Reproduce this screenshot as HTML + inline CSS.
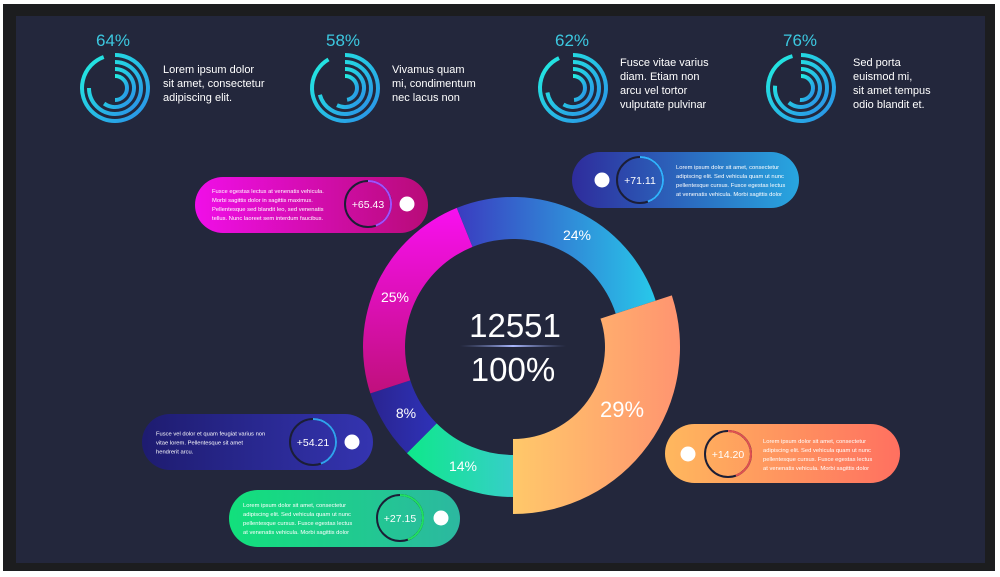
<!DOCTYPE html>
<html><head><meta charset="utf-8"><style>
html,body{margin:0;padding:0;background:#fff;}
body{width:1000px;height:577px;overflow:hidden;position:relative;font-family:"Liberation Sans",sans-serif;}
svg{position:absolute;left:0;top:0;}
</style></head><body>
<svg id="s" width="1000" height="577" viewBox="0 0 1000 577" xmlns="http://www.w3.org/2000/svg">
<defs>
<linearGradient id="gBlue" x1="0" y1="0" x2="1" y2="0"><stop offset="0" stop-color="#3a3cc0"/><stop offset="1" stop-color="#28c8ea"/></linearGradient>
<linearGradient id="gMag" x1="0" y1="0" x2="0" y2="1"><stop offset="0" stop-color="#f810f0"/><stop offset="1" stop-color="#c0107c"/></linearGradient>
<linearGradient id="gInd" x1="0" y1="0" x2="1" y2="0"><stop offset="0" stop-color="#2a2490"/><stop offset="1" stop-color="#2e32b8"/></linearGradient>
<linearGradient id="gGrn" x1="0" y1="0" x2="1" y2="0"><stop offset="0" stop-color="#0ee88a"/><stop offset="1" stop-color="#36cfc8"/></linearGradient>
<linearGradient id="gOr" x1="0" y1="0" x2="1" y2="0"><stop offset="0" stop-color="#ffc86a"/><stop offset="1" stop-color="#ff9470"/></linearGradient>
<linearGradient id="pMag" x1="0" y1="0" x2="1" y2="0"><stop offset="0" stop-color="#f00ee8"/><stop offset="1" stop-color="#b80c78"/></linearGradient>
<linearGradient id="pBlue" x1="0" y1="0" x2="1" y2="0"><stop offset="0" stop-color="#2e2c9c"/><stop offset="1" stop-color="#28a6e0"/></linearGradient>
<linearGradient id="pInd" x1="0" y1="0" x2="1" y2="0"><stop offset="0" stop-color="#1e1c70"/><stop offset="1" stop-color="#3434b0"/></linearGradient>
<linearGradient id="pGrn" x1="0" y1="0" x2="1" y2="0"><stop offset="0" stop-color="#12e07c"/><stop offset="1" stop-color="#2cb8a0"/></linearGradient>
<linearGradient id="pOr" x1="0" y1="0" x2="1" y2="0"><stop offset="0" stop-color="#ffb85e"/><stop offset="1" stop-color="#ff7060"/></linearGradient>
<linearGradient id="ring" x1="0" y1="0" x2="1" y2="1"><stop offset="0" stop-color="#22f0e0"/><stop offset="1" stop-color="#2a8ee8"/></linearGradient>
<linearGradient id="ln" x1="0" y1="0" x2="1" y2="0"><stop offset="0" stop-color="#6a7ab0" stop-opacity="0"/><stop offset="0.5" stop-color="#aab8ff"/><stop offset="1" stop-color="#6a7ab0" stop-opacity="0"/></linearGradient>
</defs>
<rect x="3" y="4" width="992" height="567" fill="#1c1d1f"/>
<rect x="16" y="16" width="969" height="547" fill="#23273c"/>
<g id="rings"></g>
<g id="donut"></g>
<g id="pills"></g>
<g font-family="Liberation Sans, sans-serif" fill="#3cc8e0" font-size="17" text-anchor="middle">
<text x="113" y="46">64%</text><text x="343" y="46">58%</text><text x="572" y="46">62%</text><text x="800" y="46">76%</text>
</g>
<g font-family="Liberation Sans, sans-serif" fill="#fff" font-size="11">
<text x="163" y="73">Lorem ipsum dolor</text><text x="163" y="87">sit amet, consectetur</text><text x="163" y="101">adipiscing elit.</text>
<text x="392" y="73">Vivamus quam</text><text x="392" y="87">mi, condimentum</text><text x="392" y="101">nec lacus non</text>
<text x="620" y="66">Fusce vitae varius</text><text x="620" y="80">diam.  Etiam non</text><text x="620" y="94">arcu vel tortor</text><text x="620" y="108">vulputate pulvinar</text>
<text x="853" y="66">Sed porta</text><text x="853" y="80">euismod mi,</text><text x="853" y="94">sit amet tempus</text><text x="853" y="108">odio blandit et.</text>
</g>
<g font-family="Liberation Sans, sans-serif" fill="#fff" text-anchor="middle">
<text x="577" y="240" font-size="14">24%</text>
<text x="395" y="302" font-size="14">25%</text>
<text x="406" y="418" font-size="14">8%</text>
<text x="463" y="471" font-size="14">14%</text>
<text x="622" y="417" font-size="22">29%</text>
<text x="515" y="337" font-size="33">12551</text>
<text x="513" y="381" font-size="33">100%</text>
</g>
<rect x="460" y="345" width="106" height="2" fill="url(#ln)"/>
</svg>
<script>
var NS="http://www.w3.org/2000/svg";
function P(cx,cy,r,a){a=a*Math.PI/180;return [cx+r*Math.sin(a),cy-r*Math.cos(a)];}
function seg(cx,cy,ri,ro,a0,a1){var p1=P(cx,cy,ro,a0),p2=P(cx,cy,ro,a1),p3=P(cx,cy,ri,a1),p4=P(cx,cy,ri,a0);var l=(a1-a0)>180?1:0;
return "M"+p1+" A"+ro+" "+ro+" 0 "+l+" 1 "+p2+" L"+p3+" A"+ri+" "+ri+" 0 "+l+" 0 "+p4+"Z";}
function arc(cx,cy,r,a0,a1){var p1=P(cx,cy,r,a0),p2=P(cx,cy,r,a1);var l=(a1-a0)>180?1:0;return "M"+p1+" A"+r+" "+r+" 0 "+l+" 1 "+p2;}
function el(par,tag,at){var e=document.createElementNS(NS,tag);for(var k in at)e.setAttribute(k,at[k]);document.getElementById(par).appendChild(e);return e;}
var cx=513,cy=347;
[[180,225,"url(#gGrn)"],[225,252,"url(#gInd)"],[252,338,"url(#gMag)"],[338,432,"url(#gBlue)"]].forEach(function(s){
el("donut","path",{d:seg(cx,cy,108,150,s[0],s[1]),fill:s[2]});});
el("donut","path",{d:seg(cx,cy,92,167,72,180),fill:"url(#gOr)"});
[[115,88],[345,88],[573,88],[801,88]].forEach(function(c,i){
 var ends=[[340,270,215,180],[330,255,205,170],[335,260,210,175],[345,275,220,185]][i];
 [33,26,19,12].forEach(function(r,j){el("rings","path",{d:arc(c[0],c[1],r,0,ends[j]),fill:"none",stroke:"url(#ring)","stroke-width":4});});
});
var pills=[
 [195,177,233,56,"url(#pMag)",368,204,407,["Fusce egestas lectus at venenatis vehicula.","Morbi sagittis dolor in sagittis maximus.","Pellentesque sed blandit leo, sed venenatis","tellus. Nunc laoreet sem interdum faucibus."],212,"+65.43","#a050ff"],
 [572,152,227,56,"url(#pBlue)",640,180,602,["Lorem ipsum dolor sit amet, consectetur","adipiscing elit. Sed vehicula quam ut nunc","pellentesque cursus. Fusce egestas lectus","at venenatis vehicula. Morbi sagittis dolor"],676,"+71.11","#30b0ff"],
 [142,414,231,56,"url(#pInd)",313,442,352,["Fusce vel dolor et quam feugiat varius non","vitae lorem. Pellentesque sit amet","hendrerit arcu."],156,"+54.21","#30a0f0"],
 [229,490,231,57,"url(#pGrn)",400,518,441,["Lorem ipsum dolor sit amet, consectetur","adipiscing elit. Sed vehicula quam ut nunc","pellentesque cursus. Fusce egestas lectus","at venenatis vehicula. Morbi sagittis dolor"],243,"+27.15","#20e060"],
 [665,424,235,59,"url(#pOr)",728,454,688,["Lorem ipsum dolor sit amet, consectetur","adipiscing elit. Sed vehicula quam ut nunc","pellentesque cursus. Fusce egestas lectus","at venenatis vehicula. Morbi sagittis dolor"],763,"+14.20","#e05050"]
];
pills.forEach(function(p){
 var h=p[3];
 el("pills","rect",{x:p[0],y:p[1],width:p[2],height:h,rx:h/2,fill:p[4]});
 el("pills","circle",{cx:p[5],cy:p[6],r:23,fill:"none",stroke:"#1b1e36","stroke-width":2});
 el("pills","path",{d:arc(p[5],p[6],23,0,160),fill:"none",stroke:p[11],"stroke-width":2});
 el("pills","circle",{cx:p[7],cy:p[6],r:7.5,fill:"#fff"});
 var t=el("pills","text",{x:p[5],y:p[6]+4,"text-anchor":"middle",fill:"#fff","font-size":10.5,"font-family":"Liberation Sans, sans-serif"});t.textContent=p[10];
 var n=p[8].length, y0=p[6]-(n-1)*4.5+2.5;
 p[8].forEach(function(s,i){var tt=el("pills","text",{x:p[9],y:y0+i*9,fill:"#fff","font-size":5.8,"font-family":"Liberation Sans, sans-serif"});tt.textContent=s;});
});
</script>
</body></html>
